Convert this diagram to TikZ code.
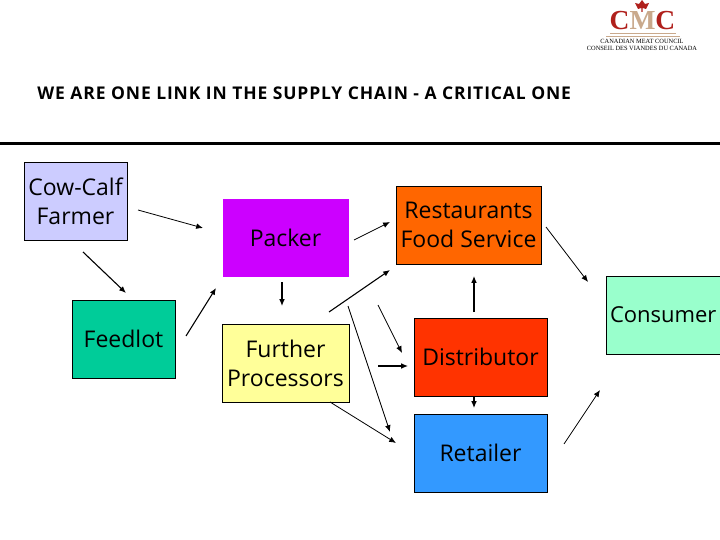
\documentclass[tikz,border=0pt]{standalone}
\usepackage{fontspec}
\setmainfont{Open Sans}
\newfontfamily\titlefont[LetterSpace=5.1]{Open Sans}
\newfontfamily\logofont{Liberation Serif}
\usetikzlibrary{arrows.meta}
\definecolor{cowblue}{HTML}{CCCCFF}
\definecolor{feedgreen}{HTML}{00CC99}
\definecolor{packviolet}{HTML}{CC00FF}
\definecolor{furtheryellow}{HTML}{FFFF99}
\definecolor{restorange}{HTML}{FF6600}
\definecolor{distred}{HTML}{FF3300}
\definecolor{retailblue}{HTML}{3399FF}
\definecolor{consumermint}{HTML}{99FFCC}
\definecolor{logored}{HTML}{B0201C}
\definecolor{logotan}{HTML}{C9A98C}
\begin{document}
\begin{tikzpicture}[x=1pt,y=-1pt,line width=0.8pt,>={Latex[length=2.4mm,width=2mm]},
    link/.style={->,line width=1.1pt},
    thinlink/.style={->,line width=0.8pt},
    stage/.style={draw=black,line width=0.7pt,inner sep=0pt,align=center,minimum height=78pt,
      font=\fontsize{23}{29}\selectfont}]
  \useasboundingbox (0,0) rectangle (720,540);
  % logo
  \fill[logored] (642,0) -- (645,4) -- (649,3) -- (646,9) -- (642.7,8) -- (642.7,12) -- (641.3,12) -- (641.3,8) -- (638,9) -- (635,3) -- (639,4) -- cycle;
  \node (cmc) at (642.5,21) {\logofont\bfseries\fontsize{27.5}{27}\selectfont\textcolor{logored}{C}\textcolor{logotan}{M}\textcolor{logored}{C}};
  \fill[logotan] (610,33) rectangle (676,34.5);
  \fill[logotan] (606,36) rectangle (680,37);
  \node (logoen) at (642,41.5) {\logofont\fontsize{6.4}{7}\selectfont CANADIAN MEAT COUNCIL};
  \node (logofr) at (642,48.5) {\logofont\fontsize{6.4}{7}\selectfont CONSEIL DES VIANDES DU CANADA};
  % title
  \node[anchor=base west,inner sep=0pt] (title) at (37,100) {\titlefont\bfseries\fontsize{17.5}{20}\selectfont WE ARE ONE LINK IN THE SUPPLY CHAIN - A CRITICAL ONE};
  \fill (0,142.5) rectangle (720,145.5);
  % stages
  \node[stage,fill=cowblue,minimum width=103pt] (cow) at (75.5,201.5) {Cow-Calf\\Farmer};
  \node[stage,fill=feedgreen,minimum width=103pt] (feedlot) at (123.5,339) {Feedlot};
  \node[stage,fill=packviolet,draw=packviolet,minimum width=125pt,minimum height=77pt] (packer) at (285.5,237.5) {Packer};
  \node[stage,fill=furtheryellow,minimum width=127pt] (further) at (285.5,363) {Further\\Processors};
  \node[stage,fill=restorange,minimum width=145pt] (rest) at (468.5,225) {Restaurants\\Food Service};
  \node[stage,fill=distred,minimum width=133pt] (dist) at (480.5,357) {Distributor};
  \node[stage,fill=retailblue,minimum width=133pt] (retail) at (480.5,453) {Retailer};
  \node[stage,fill=consumermint,minimum width=120pt,text width=112pt,align=left,font=\fontsize{22}{29}\selectfont] (consumer) at (666,315) {Consumer};
  % ends of the arrows
  \foreach \n/\x/\y in {cowa/138/210,packa/203/228,cowb/83/252,feeda/126/293,
      feedb/186/336,packb/216/288,packc/282/282,furtha/282/306,
      packd/354/240,resta/390/222,furthb/329/312,restb/390/270,
      furthc/348/306,retaila/390/432,furthd/378/305,dista/402/353,
      furthe/378/366,distb/408/366,furthf/330/402,retailb/396/443,
      distc/474/397,retailc/474/408,distd/474/312,restc/474/276,
      restd/546/227,consa/588/282,retaild/564/444,consb/600/390}
    \coordinate (\n) at (\x,\y);
  % arrows
  \foreach \a/\b in {cowb/feeda,feedb/packb,packc/furtha,furthb/restb,furthe/distb,distc/retailc,distd/restc}
    \draw[link] (\a) -- (\b);
  \foreach \a/\b in {cowa/packa,packd/resta,furthc/retaila,furthd/dista,furthf/retailb,restd/consa,retaild/consb}
    \draw[thinlink] (\a) -- (\b);
\end{tikzpicture}
\end{document}
